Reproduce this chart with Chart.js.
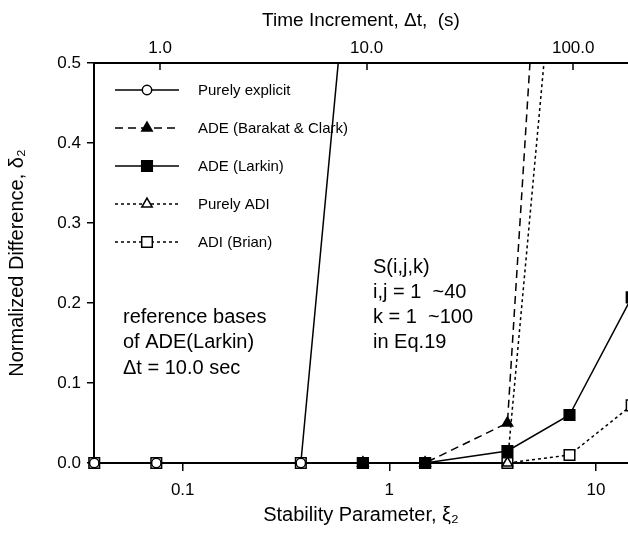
<!DOCTYPE html>
<html>
<head>
<meta charset="utf-8">
<title>Normalized difference vs stability parameter</title>
<script src="https://cdn.jsdelivr.net/npm/chart.js@4/dist/chart.umd.min.js"></script>
<style>
  html, body { margin: 0; padding: 0; background: #fff; }
  #wrap { width: 628px; height: 535px; }
</style>
</head>
<body>
<div id="wrap"><canvas id="chart" width="628" height="535"></canvas></div>
<script>
// stability parameter xi_2 for dt = 0.5, 1, 5, 10, 20, 50, 100, 200 s
const xiValues = [0.0373, 0.0745, 0.373, 0.745, 1.49, 3.73, 7.45, 14.9];

// normalized difference delta_2 per scheme (null = not computed)
const explicitDelta = [0, 0, 0, 0.83, null, null, null, null];
const barakatDelta  = [null, null, null, 0, 0, 0.05, 1.29, null];
const larkinDelta   = [null, null, null, 0, 0, 0.015, 0.06, 0.207];
const adiDelta      = [null, null, null, 0, 0, 0, 0.85, null];
const brianDelta    = [0, 0, 0, 0, 0, 0, 0.01, 0.072];

const seriesNames = ['Purely explicit', 'ADE (Barakat & Clark)', 'ADE (Larkin)', 'Purely ADI', 'ADI (Brian)'];

const bottomTicks = [0.1, 1, 10];
const bottomTickLabels = ['0.1', '1', '10'];
const topTicks = [1, 10, 100];
const topTickLabels = ['1.0', '10.0', '100.0'];
const yTicks = [0, 0.1, 0.2, 0.3, 0.4, 0.5];

const noteLeft = ['reference bases', 'of ADE(Larkin)', '\u0394t = 10.0 sec'];
const noteRight = ['S(i,j,k)', 'i,j = 1  ~40', 'k = 1  ~100', 'in Eq.19'];

const FONT = '"Liberation Sans", Arial, Helvetica, sans-serif';
Chart.defaults.font.family = FONT;
Chart.defaults.color = '#000';

function points(ys) {
    return xiValues.map((x, i) => ({ x: x, y: ys[i] })).filter(p => p.y !== null);
}

function series(label, ys, dash, style, fill, radius) {
    return {
        label: label,
        data: points(ys),
        borderColor: '#000',
        borderWidth: 1.5,
        borderDash: dash,
        pointStyle: style,
        pointRadius: radius,
        pointBackgroundColor: fill,
        pointBorderColor: '#000',
        pointBorderWidth: 1.5,
        tension: 0,
        clip: { left: 10, top: 0, right: 0, bottom: 10 }
    };
}

const datasets = [
    series(seriesNames[0], explicitDelta, [], 'circle', '#fff', 4.7),
    series(seriesNames[1], barakatDelta, [8, 5], 'triangle', '#000', 6),
    series(seriesNames[2], larkinDelta, [], 'rect', '#000', 7.5),
    series(seriesNames[3], adiDelta, [3, 3], 'triangle', '#fff', 6),
    series(seriesNames[4], brianDelta, [3, 3], 'rect', '#fff', 7.5)
];

// keep the plot box fixed: no extra label padding from the scales
function fixBox(s, size) {
    if (s.isHorizontal()) s.height = size; else s.width = size;
    s.paddingLeft = 0;
    s.paddingRight = 0;
    s.paddingTop = 0;
    s.paddingBottom = 0;
}

// inward tick marks on the top (time increment) axis
const topTickPlugin = {
    id: 'topTicks',
    afterDraw(chart) {
        const { ctx, chartArea } = chart;
        const s = chart.scales.x2;
        ctx.save();
        ctx.strokeStyle = '#000';
        ctx.lineWidth = 1.5;
        topTicks.forEach(v => {
            const x = Math.round(s.getPixelForValue(v));
            ctx.beginPath();
            ctx.moveTo(x, chartArea.top);
            ctx.lineTo(x, chartArea.top + 7);
            ctx.stroke();
        });
        ctx.restore();
    }
};

// legend drawn inside the plot, line sample + marker per row
const legendPlugin = {
    id: 'insideLegend',
    afterDatasetsDraw(chart) {
        const ctx = chart.ctx;
        ctx.save();
        chart.data.datasets.forEach((ds, i) => {
            const y = 90 + i * 38;
            ctx.strokeStyle = '#000';
            ctx.lineWidth = ds.borderWidth;
            ctx.setLineDash(ds.borderDash);
            ctx.beginPath();
            ctx.moveTo(115, y);
            ctx.lineTo(179, y);
            ctx.stroke();
            ctx.setLineDash([]);
            ctx.fillStyle = ds.pointBackgroundColor;
            ctx.strokeStyle = '#000';
            ctx.lineWidth = ds.pointBorderWidth;
            Chart.helpers.drawPoint(ctx, {
                pointStyle: ds.pointStyle, radius: ds.pointRadius, rotation: 0, borderWidth: ds.pointBorderWidth
            }, 147, y);
            ctx.fillStyle = '#000';
            ctx.font = '15px ' + FONT;
            ctx.textAlign = 'left';
            ctx.textBaseline = 'middle';
            ctx.fillText(ds.label, 198, y + 1);
        });
        ctx.restore();
    }
};

const notesPlugin = {
    id: 'notes',
    afterDraw(chart) {
        const ctx = chart.ctx;
        ctx.save();
        ctx.fillStyle = '#000';
        ctx.font = '20px ' + FONT;
        ctx.textAlign = 'left';
        ctx.textBaseline = 'middle';
        noteLeft.forEach((t, i) => ctx.fillText(t, 123, 317 + i * 25.7));
        noteRight.forEach((t, i) => ctx.fillText(t, 373, 267 + i * 25));
        ctx.restore();
    }
};

new Chart(document.getElementById('chart').getContext('2d'), {
    type: 'line',
    data: { datasets: datasets },
    options: {
        responsive: false,
        animation: false,
        events: [],
        layout: { padding: 0, autoPadding: false },
        plugins: { legend: { display: false }, tooltip: { enabled: false } },
        scales: {
            x: {
                type: 'logarithmic',
                position: 'bottom',
                min: 0.0372,
                max: 14.3,
                afterBuildTicks: s => { s.ticks = bottomTicks.map(v => ({ value: v })); },
                afterFit: s => fixBox(s, 72),
                grid: { drawOnChartArea: false, drawTicks: true, tickLength: 8, color: '#000', lineWidth: 1.5 },
                border: { display: true, color: '#000', width: 2 },
                ticks: { autoSkip: false, maxRotation: 0, padding: 9, font: { size: 17 },
                         callback: (v, i) => bottomTickLabels[i] },
                title: { display: true, text: 'Stability Parameter, \u03be\u2082', font: { size: 20 },
                         padding: { top: 0, bottom: 8 } }
            },
            x2: {
                type: 'logarithmic',
                position: 'top',
                min: 0.479,
                max: 184.2,
                afterBuildTicks: s => { s.ticks = topTicks.map(v => ({ value: v })); },
                afterFit: s => fixBox(s, 63),
                grid: { drawOnChartArea: false, drawTicks: false },
                border: { display: true, color: '#000', width: 2 },
                ticks: { autoSkip: false, maxRotation: 0, padding: 4, font: { size: 17 },
                         callback: (v, i) => topTickLabels[i] },
                title: { display: true, text: 'Time Increment, \u0394t,  (s)', font: { size: 19 },
                         padding: { top: 9, bottom: 0 } }
            },
            y: {
                type: 'linear',
                position: 'left',
                min: 0,
                max: 0.5,
                afterBuildTicks: s => { s.ticks = yTicks.map(v => ({ value: v })); },
                afterFit: s => fixBox(s, 94),
                grid: { drawOnChartArea: false, drawTicks: true, tickLength: 7, color: '#000', lineWidth: 1.5 },
                border: { display: true, color: '#000', width: 2 },
                ticks: { padding: 6, font: { size: 17 }, callback: v => v.toFixed(1) },
                title: { display: true, text: 'Normalized Difference, \u03b4\u2082', font: { size: 20 },
                         padding: { top: 5, bottom: 0 } }
            }
        }
    },
    plugins: [topTickPlugin, legendPlugin, notesPlugin]
});
</script>
</body>
</html>
